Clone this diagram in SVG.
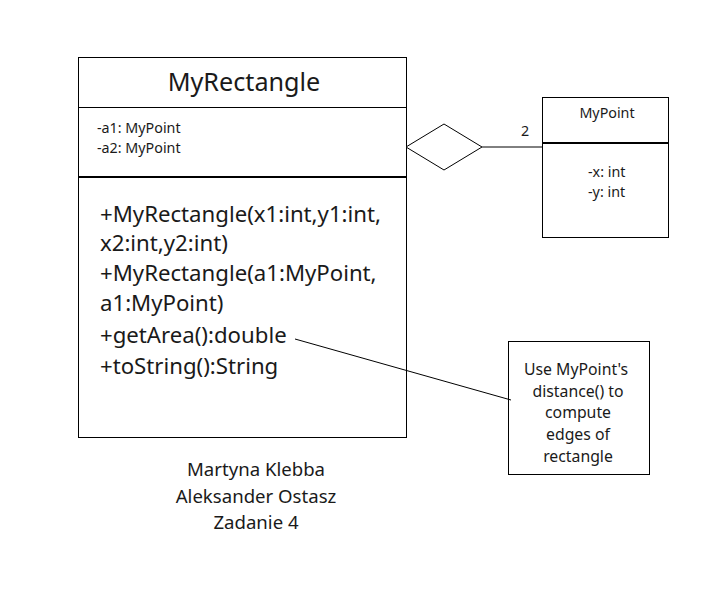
<svg xmlns="http://www.w3.org/2000/svg" width="710" height="599" viewBox="0 0 710 599">
<style>
text{font-family:"Noto Sans","Open Sans","DejaVu Sans",sans-serif;fill:#1a1a1a}
.box{fill:#fff;stroke:#000;stroke-width:1}
.thick{stroke:#000;stroke-width:2}
.thin{stroke:#000;stroke-width:1}
.s13{font-size:14.3px}
.s20{font-size:22.2px}
.s15{font-size:15.8px}
.s18{font-size:18.6px}
.mid{text-anchor:middle}
</style>
<rect width="710" height="599" fill="#fff"/>
<g id="MyRectangle">
<rect class="box" x="78.5" y="57.5" width="328" height="380"/>
<line class="thin" x1="78" y1="107.5" x2="406" y2="107.5"/>
<line class="thick" x1="78" y1="177" x2="406" y2="177"/>
<text x="244" y="91" class="mid" font-size="25.2px">MyRectangle</text>
<text x="97" y="133" class="s13">-a1: MyPoint</text>
<text x="97" y="153" class="s13">-a2: MyPoint</text>
<text x="100" y="222" class="s20">+MyRectangle(x1:int,y1:int,</text>
<text x="100" y="251" class="s20">x2:int,y2:int)</text>
<text x="100" y="281" class="s20">+MyRectangle(a1:MyPoint,</text>
<text x="100" y="311" class="s20">a1:MyPoint)</text>
<text x="100" y="343" class="s20">+getArea():double</text>
<text x="100" y="374" class="s20">+toString():String</text>
</g>
<g id="MyPoint">
<rect class="box" x="542.5" y="97.5" width="126" height="140"/>
<line class="thick" x1="542" y1="143" x2="669" y2="143"/>
<text x="607" y="118" class="s13 mid">MyPoint</text>
<text x="588" y="177" class="s13">-x: int</text>
<text x="588" y="197" class="s13">-y: int</text>
</g>
<g id="Note">
<rect class="box" x="508.5" y="341.5" width="141" height="133"/>
<text x="576" y="375" class="s15 mid">Use MyPoint's</text>
<text x="578" y="397" class="s15 mid">distance() to</text>
<text x="578" y="418" class="s15 mid">compute</text>
<text x="578" y="440" class="s15 mid">edges of</text>
<text x="578" y="462" class="s15 mid">rectangle</text>
</g>
<g id="Authors">
<text x="256" y="476" class="s18 mid">Martyna Klebba</text>
<text x="256" y="503" class="s18 mid">Aleksander Ostasz</text>
<text x="256" y="529" class="s18 mid">Zadanie 4</text>
</g>
<g id="connectors">
<polygon points="406,147 444,124 482,147 444,170" fill="#fff" stroke="#000" stroke-width="1"/>
<line class="thin" x1="482" y1="147" x2="542" y2="147"/>
<text x="525" y="136" class="s13 mid">2</text>
<line class="thin" x1="295" y1="339" x2="511" y2="400"/>
</g>
</svg>
